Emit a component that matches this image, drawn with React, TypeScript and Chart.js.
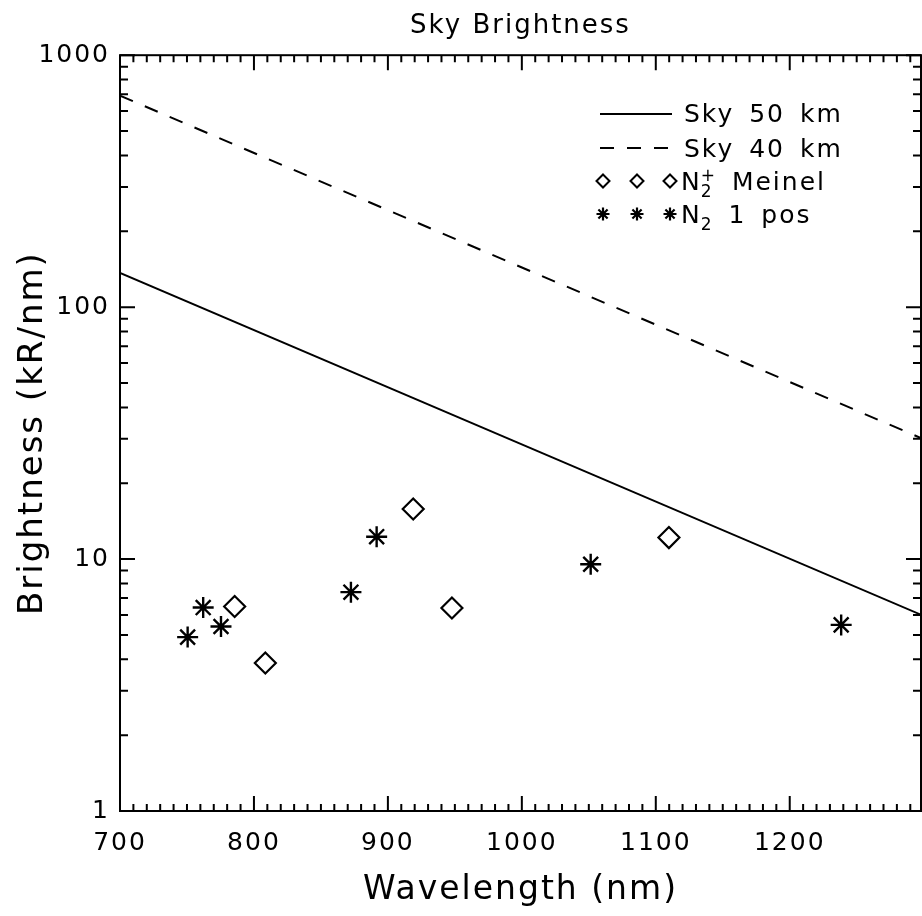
import React, { useEffect, useRef } from "react";
import { Chart, registerables } from "chart.js";

Chart.register(...registerables);

const TITLE = "Sky Brightness";
const X_TITLE = "Wavelength (nm)";
const Y_TITLE = "Brightness (kR/nm)";

const xTickValues = [700, 800, 900, 1000, 1100, 1200];
const yTickValues = [1, 10, 100, 1000];

const sky50Wavelength = [700, 1300];
const sky50Brightness = [136.6, 5.95];
const sky40Wavelength = [700, 1300];
const sky40Brightness = [691, 29.9];

const meinelWavelength = [785.6, 808.5, 918.9, 947.8, 1109.8];
const meinelBrightness = [6.48, 3.87, 15.8, 6.39, 12.17];

const n2Wavelength = [750.5, 762.1, 775.4, 872.4, 891.6, 1051.4, 1238.4];
const n2Brightness = [4.9, 6.42, 5.4, 7.39, 12.27, 9.54, 5.48];

const legendSky50 = "Sky 50 km";
const legendSky40 = "Sky 40 km";
const legendMeinel = { base: "N", sub: "2", sup: "+", rest: " Meinel" };
const legendN2 = { base: "N", sub: "2", sup: "", rest: " 1 pos" };

const FONT = '"DejaVu Sans", sans-serif';

const zip = (xs: number[], ys: number[]) => xs.map((x, i) => ({ x, y: ys[i] }));

function drawDiamond(ctx: CanvasRenderingContext2D, x: number, y: number, r: number) {
  ctx.beginPath();
  ctx.moveTo(x, y - r);
  ctx.lineTo(x + r, y);
  ctx.lineTo(x, y + r);
  ctx.lineTo(x - r, y);
  ctx.closePath();
  ctx.stroke();
}

function drawStar(ctx: CanvasRenderingContext2D, x: number, y: number, r: number) {
  ctx.beginPath();
  for (let k = 0; k < 4; k++) {
    const a = (k * Math.PI) / 4;
    ctx.moveTo(x - r * Math.cos(a), y - r * Math.sin(a));
    ctx.lineTo(x + r * Math.cos(a), y + r * Math.sin(a));
  }
  ctx.stroke();
}

const spacingPlugin = {
  id: "spacing",
  beforeDraw(chart: any) {
    chart.ctx.letterSpacing = "2px";
  },
};

const framePlugin = {
  id: "frame",
  afterDraw(chart: any) {
    const { ctx, chartArea, scales } = chart;
    const { left, right, top, bottom } = chartArea;
    const x = scales.x;
    const y = scales.y;
    ctx.save();
    ctx.strokeStyle = "#000";
    ctx.lineWidth = 2;
    ctx.strokeRect(left, top, right - left, bottom - top);
    ctx.beginPath();
    for (let v = 700; v <= 1300; v += 10) {
      const px = x.getPixelForValue(v);
      if (px < left - 0.5 || px > right + 0.5) continue;
      const len = v % 100 === 0 ? 15 : 7;
      ctx.moveTo(px, bottom);
      ctx.lineTo(px, bottom - len);
      ctx.moveTo(px, top);
      ctx.lineTo(px, top + len);
    }
    for (let d = 1; d <= 1000; d *= 10) {
      for (let m = 1; m <= 9; m++) {
        const v = d * m;
        if (v > 1000) break;
        const py = y.getPixelForValue(v);
        const len = m === 1 ? 15 : 8;
        ctx.moveTo(left, py);
        ctx.lineTo(left + len, py);
        ctx.moveTo(right, py);
        ctx.lineTo(right - len, py);
      }
    }
    ctx.stroke();
    ctx.restore();
  },
};

const legendPlugin = {
  id: "customLegend",
  afterDraw(chart: any) {
    const ctx = chart.ctx as CanvasRenderingContext2D;
    ctx.save();
    (ctx as any).letterSpacing = "2px";
    (ctx as any).wordSpacing = "5px";
    ctx.strokeStyle = "#000";
    ctx.fillStyle = "#000";
    ctx.lineWidth = 2;
    ctx.textAlign = "left";
    ctx.textBaseline = "alphabetic";
    const x0 = 600;
    const x1 = 672;
    const tx = 684;
    ctx.beginPath();
    ctx.moveTo(x0, 114);
    ctx.lineTo(x1, 114);
    ctx.stroke();
    ctx.font = `25px ${FONT}`;
    ctx.fillText(legendSky50, tx, 122);
    ctx.setLineDash([14, 13]);
    ctx.beginPath();
    ctx.moveTo(x0, 148);
    ctx.lineTo(x1 + 2, 148);
    ctx.stroke();
    ctx.setLineDash([]);
    ctx.fillText(legendSky40, tx, 157);
    const mx = [603, 637, 670];
    mx.forEach((m) => drawDiamond(ctx, m, 181, 6.5));
    const drawSubSup = (entry: any, baseY: number) => {
      ctx.font = `25px ${FONT}`;
      let cx = 681;
      ctx.fillText(entry.base, cx, baseY);
      cx += ctx.measureText(entry.base).width - 1;
      ctx.font = `17px ${FONT}`;
      ctx.fillText(entry.sub, cx, baseY + 7);
      let w = ctx.measureText(entry.sub).width;
      if (entry.sup) {
        ctx.fillText(entry.sup, cx, baseY - 9);
        w = Math.max(w, ctx.measureText(entry.sup).width);
      }
      cx += w;
      ctx.font = `25px ${FONT}`;
      ctx.fillText(entry.rest, cx, baseY);
    };
    drawSubSup(legendMeinel, 190);
    ctx.lineWidth = 2.2;
    mx.forEach((m) => drawStar(ctx, m, 214, 6.5));
    drawSubSup(legendN2, 223);
    ctx.restore();
  },
};

export default function App() {
  const ref = useRef<HTMLCanvasElement>(null);
  useEffect(() => {
    const canvas = ref.current!;
    const chart = new Chart(canvas, {
      type: "scatter",
      data: {
        datasets: [
          {
            type: "line",
            label: legendSky50,
            data: zip(sky50Wavelength, sky50Brightness),
            borderColor: "#000",
            borderWidth: 2,
            pointRadius: 0,
            fill: false,
            tension: 0,
          },
          {
            type: "line",
            label: legendSky40,
            data: zip(sky40Wavelength, sky40Brightness),
            borderColor: "#000",
            borderWidth: 2,
            borderDash: [14, 13],
            pointRadius: 0,
            fill: false,
            tension: 0,
          },
          {
            label: "N2+ Meinel",
            data: zip(meinelWavelength, meinelBrightness),
            pointStyle: "rectRot",
            pointRadius: 10.5,
            borderColor: "#000",
            backgroundColor: "rgba(0,0,0,0)",
            borderWidth: 2.2,
            showLine: false,
          },
          {
            label: "N2 1 pos",
            data: zip(n2Wavelength, n2Brightness),
            pointStyle: "star",
            pointRadius: 10.5,
            borderColor: "#000",
            backgroundColor: "rgba(0,0,0,0)",
            borderWidth: 2.4,
            showLine: false,
          },
        ],
      } as any,
      options: {
        responsive: false,
        animation: false,
        devicePixelRatio: 1,
        events: [],
        layout: { autoPadding: false, padding: { left: 0, right: 1, top: 0, bottom: 0 } },
        plugins: {
          legend: { display: false },
          tooltip: { enabled: false },
          title: {
            display: true,
            text: TITLE,
            fullSize: false,
            color: "#000",
            font: { family: FONT, size: 26, weight: "normal" },
            padding: { top: 11, bottom: 13 },
          },
        },
        scales: {
          x: {
            type: "linear",
            min: 700,
            max: 1298,
            afterBuildTicks: (s: any) => {
              s.ticks = xTickValues.map((v) => ({ value: v }));
            },
            afterFit: (s: any) => {
              s.height = 105;
              s.paddingLeft = 0;
              s.paddingRight = 0;
            },
            grid: { display: false, drawTicks: false },
            border: { display: false },
            ticks: {
              color: "#000",
              font: { family: FONT, size: 25 },
              padding: 17,
              autoSkip: false,
              maxRotation: 0,
              callback: (v: any) => String(v),
            },
            title: {
              display: true,
              text: X_TITLE,
              color: "#000",
              font: { family: FONT, size: 33 },
              padding: { top: 0, bottom: 6 },
            },
          },
          y: {
            type: "logarithmic",
            min: 1,
            max: 1000,
            afterBuildTicks: (s: any) => {
              s.ticks = yTickValues.map((v) => ({ value: v, major: true }));
            },
            afterFit: (s: any) => {
              s.width = 120;
              s.paddingTop = 0;
              s.paddingBottom = 0;
            },
            grid: { display: false, drawTicks: false },
            border: { display: false },
            ticks: {
              color: "#000",
              font: { family: FONT, size: 25 },
              padding: 10,
              autoSkip: false,
              callback: (v: any) => String(v),
            },
            title: {
              display: true,
              text: Y_TITLE,
              color: "#000",
              font: { family: FONT, size: 34 },
              padding: { top: 13, bottom: 0 },
            },
          },
        },
      } as any,
      plugins: [spacingPlugin, framePlugin, legendPlugin] as any,
    });
    return () => chart.destroy();
  }, []);
  return (
    <canvas
      ref={ref}
      width={922}
      height={916}
      style={{ position: "fixed", left: 0, top: 0, width: 922, height: 916, background: "#fff" }}
    />
  );
}
